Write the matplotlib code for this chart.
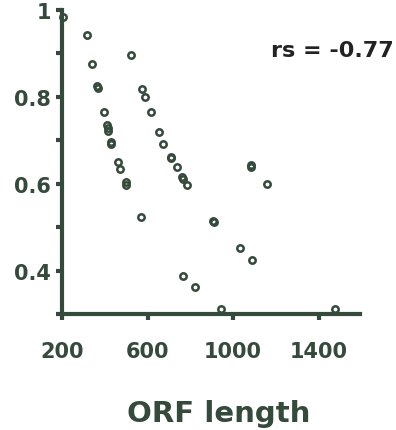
import matplotlib
matplotlib.use("Agg")
import matplotlib.pyplot as plt
from matplotlib.ticker import FixedLocator

# Data (ORF length vs. value)
orf_length = [205, 318, 342, 365, 367, 396, 412, 414, 417, 429, 431, 463, 471, 499, 501,
              523, 571, 576, 587, 618, 652, 674, 708, 711, 737, 760, 767, 786,
              764, 821, 906, 910, 944, 1031, 1083, 1085, 1089, 1160, 1476]
values = [0.985, 0.943, 0.876, 0.825, 0.820, 0.766, 0.735, 0.728, 0.722, 0.696, 0.692, 0.650, 0.634, 0.603, 0.597,
          0.896, 0.524, 0.818, 0.800, 0.765, 0.719, 0.692, 0.662, 0.659, 0.638, 0.615, 0.611, 0.597,
          0.387, 0.362, 0.514, 0.511, 0.311, 0.451, 0.642, 0.639, 0.425, 0.600, 0.311]
x_ticks = [200, 600, 1000, 1400]
y_ticks = [0.4, 0.6, 0.8, 1.0]
y_ticklabels = ["0.4", "0.6", "0.8", "1"]
annotation = "rs = -0.77"
x_label = "ORF length"

GREEN = "#344a3b"

plt.rcParams['font.family'] = ['DejaVu Sans']
fig = plt.figure(figsize=(3.96, 4.31), dpi=100)
ax = fig.add_axes([62/396, 1-315/431, (360-62)/396, (315-11)/431])

ax.plot(orf_length, values, linestyle='none', marker='o', markersize=4.6,
        markerfacecolor='none', markeredgecolor=GREEN, markeredgewidth=1.8, clip_on=False)

ax.set_xlim(200, 1594)
ax.set_ylim(0.3, 1.0)
ax.xaxis.set_major_locator(FixedLocator(x_ticks))
ax.yaxis.set_major_locator(FixedLocator(y_ticks))
ax.yaxis.set_minor_locator(FixedLocator([0.3, 0.5, 0.7, 0.9]))
ax.set_yticklabels(y_ticklabels)

for s in ['top', 'right']:
    ax.spines[s].set_visible(False)
for s in ['left', 'bottom']:
    ax.spines[s].set_linewidth(3)
    ax.spines[s].set_color(GREEN)
    ax.spines[s].set_capstyle('projecting')

ax.tick_params(axis='both', which='both', direction='out', color=GREEN, width=3)
ax.tick_params(axis='x', which='major', length=4.5, pad=15, labelsize=15, labelcolor=GREEN)
ax.tick_params(axis='y', which='both', length=4, pad=4, labelsize=15, labelcolor=GREEN)
for lbl in ax.get_xticklabels() + ax.get_yticklabels():
    lbl.set_fontweight('bold')

fig.text(219/396, 1-422/431, x_label, ha='center', va='baseline',
         fontsize=21, fontweight='bold', color=GREEN)

fig.text(394/396, 1-57/431, annotation, ha='right', va='baseline',
         fontsize=16, fontweight='bold', color='#222222')

fig.savefig("out.png", dpi=100)
